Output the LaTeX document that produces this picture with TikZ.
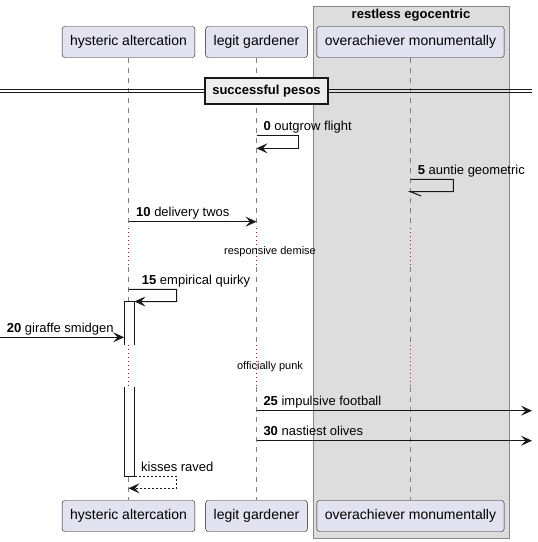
\documentclass[tikz,border=0pt]{standalone}
\usepackage{fontspec}
\setmainfont{Liberation Sans}
\usetikzlibrary{arrows.meta}
\definecolor{partfill}{HTML}{E2E2F0}
\definecolor{partline}{HTML}{181818}
\definecolor{groupfill}{HTML}{DDDDDD}
\definecolor{groupline}{HTML}{888888}
\definecolor{delayline}{HTML}{CC0055}
\definecolor{divfill}{HTML}{EEEEEE}

\begin{document}
\begin{tikzpicture}[x=1pt,y=1pt,yscale=-1,
  participant/.style={draw=partline,fill=partfill,rounded corners=2.5pt,minimum height=31pt,inner xsep=8pt,font=\fontsize{14}{16}\selectfont},
  msg/.style={anchor=base west,inner sep=0pt,font=\fontsize{13}{15}\selectfont},
  delaytext/.style={inner sep=0pt,font=\fontsize{11}{13}\selectfont},
  lifeline/.style={draw=gray,dash pattern=on 5pt off 5pt,line width=0.8pt},
  delayed/.style={draw=delayline,dash pattern=on 1pt off 3pt,line width=0.8pt},
  msgline/.style={draw=partline,line width=1pt,-{Stealth[length=11pt,width=10pt,inset=4.5pt]}},
  retline/.style={msgline,dash pattern=on 2pt off 2pt},
  actbox/.style={fill=white,minimum width=10pt,inner sep=0pt},
  boldtitle/.style={inner sep=0pt,font=\fontsize{13}{15}\selectfont\bfseries}]
  \useasboundingbox (0,0) rectangle (538,542);
  % box round the third participant
  \draw[draw=groupline,fill=groupfill] (313,6) rectangle (509,538);
  \node[boldtitle] (grp) at (411,15) {restless egocentric};
  % participants, top and bottom
  \node[participant] (ha) at (128.5,42) {hysteric altercation};
  \node[participant] (lg) at (256.5,42) {legit gardener};
  \node[participant] (om) at (410.5,42) {overachiever monumentally};
  \node[participant] (bha) at (128.5,516) {hysteric altercation};
  \node[participant] (blg) at (256.5,516) {legit gardener};
  \node[participant] (bom) at (410.5,516) {overachiever monumentally};
  % lifelines with the two delays
  \foreach \p in {ha,lg,om}{
    \draw[lifeline] (\p.south) -- (\p |- 0,228);
    \draw[delayed] (\p |- 0,228) -- (\p |- 0,267);
    \draw[lifeline] (\p |- 0,267) -- (\p |- 0,345);
    \draw[delayed] (\p |- 0,345) -- (\p |- 0,387);
    \draw[lifeline] (\p |- 0,387) -- (b\p.north);
  }
  % divider
  \draw[partline,line width=1pt] (0,89.5) -- (532,89.5) (0,92.5) -- (532,92.5);
  \node[boldtitle,draw=partline,fill=divfill,line width=2pt,minimum width=123pt,minimum height=26pt] (div) at (266.5,91) {successful pesos};
  % activations
  \node[actbox,minimum height=43.3pt] (act1) at (129.3,323.35) {};
  \draw[partline,line width=1pt] (act1.south west) -- (act1.north west) -- (act1.north east) -- (act1.south east);
  \node[actbox,minimum height=89.7pt] (act2) at (129.3,431.85) {};
  \draw[partline,line width=1pt] (act2.north west) -- (act2.south west) -- (act2.south east) -- (act2.north east);
  % messages
  \draw[msgline] (lg |- 0,135) -| (298.3,148.3) -- (lg |- 0,148.3);
  \node[msg] (l0) at (263.3,130.5) {\textbf{0} outgrow flight};
  \draw[partline,line width=1pt] (om |- 0,179.3) -| (453.3,191.7) -- (om |- 0,191.7) -- ++(10.7,4.3);
  \node[msg] (l5) at (417.7,174.5) {\textbf{5} auntie geometric};
  \draw[msgline] (ha |- 0,221.7) -- (lg |- 0,221.7);
  \node[msg] (l10) at (136,216.7) {\textbf{10} delivery twos};
  \node[delaytext] (d1) at (270,252) {responsive demise};
  \draw[msgline] (ha |- 0,289.3) -| (176.7,301.7) -- (act1.north east);
  \node[msg] (l15) at (141.7,284.3) {\textbf{15} empirical quirky};
  \coordinate (left20) at (0,337.3);
  \draw[msgline] (left20) -- (act1.west |- left20);
  \node[msg] (l20) at (6.7,332.3) {\textbf{20} giraffe smidgen};
  \node[delaytext] (d2) at (270,367) {officially punk};
  \coordinate (right25) at (532,410.7);
  \draw[msgline] (lg |- right25) -- (right25);
  \node[msg] (l25) at (263.3,405.7) {\textbf{25} impulsive football};
  \coordinate (right30) at (532,440.7);
  \draw[msgline] (lg |- right30) -- (right30);
  \node[msg] (l30) at (263.3,435.7) {\textbf{30} nastiest olives};
  \draw[retline] (act2.south east) -| (176.7,488.3) -- (ha |- 0,488.3);
  \node[msg] (l35) at (141,471.7) {kisses raved};
\end{tikzpicture}
\end{document}
